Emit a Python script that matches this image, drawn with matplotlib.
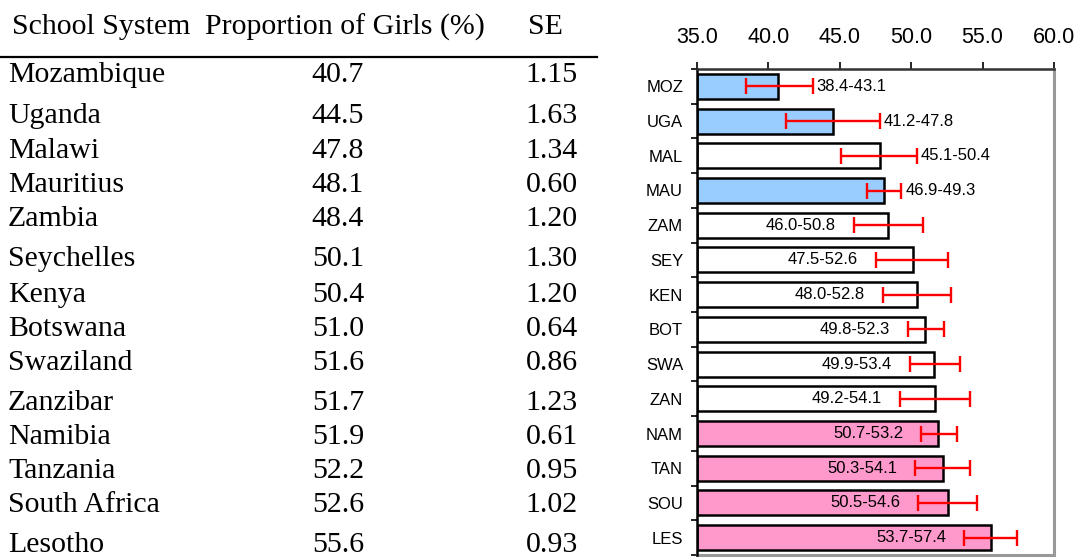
import matplotlib
matplotlib.use("Agg")
import matplotlib.pyplot as plt
from matplotlib.ticker import FixedLocator, FormatStrFormatter

# ---------------- data ----------------
systems = ["Mozambique", "Uganda", "Malawi", "Mauritius", "Zambia", "Seychelles",
           "Kenya", "Botswana", "Swaziland", "Zanzibar", "Namibia", "Tanzania",
           "South Africa", "Lesotho"]
codes = ["MOZ", "UGA", "MAL", "MAU", "ZAM", "SEY", "KEN", "BOT", "SWA", "ZAN",
         "NAM", "TAN", "SOU", "LES"]
girls_pct = [40.7, 44.5, 47.8, 48.1, 48.4, 50.1, 50.4, 51.0, 51.6, 51.7, 51.9, 52.2, 52.6, 55.6]
girls_pct_txt = ["40.7", "44.5", "47.8", "48.1", "48.4", "50.1", "50.4", "51.0", "51.6",
                 "51.7", "51.9", "52.2", "52.6", "55.6"]
se_txt = ["1.15", "1.63", "1.34", "0.60", "1.20", "1.30", "1.20", "0.64", "0.86",
          "1.23", "0.61", "0.95", "1.02", "0.93"]
ci_low = [38.4, 41.2, 45.1, 46.9, 46.0, 47.5, 48.0, 49.8, 49.9, 49.2, 50.7, 50.3, 50.5, 53.7]
ci_high = [43.1, 47.8, 50.4, 49.3, 50.8, 52.6, 52.8, 52.3, 53.4, 54.1, 53.2, 54.1, 54.6, 57.4]
# significance group: -1 below parity, 0 not significant, +1 above
group = [-1, -1, 0, -1, 0, 0, 0, 0, 0, 0, 1, 1, 1, 1]
x_ticks = [35.0, 40.0, 45.0, 50.0, 55.0, 60.0]
headers = ["School System", "Proportion of Girls (%)", "SE"]

# ---------------- layout / style ----------------
W, H = 1081, 559
row_y = [73, 114, 148, 183, 217, 257, 292, 327, 360, 400, 435, 469, 503, 543]  # px, cap centres
header_y = 25
label_outside = [True, True, True, True] + [False] * 10
colors = {-1: "#99CCFF", 0: "#FFFFFF", 1: "#FF99CC"}

plt.rcParams["font.family"] = ["Liberation Sans", "DejaVu Sans"]
fig = plt.figure(figsize=(W / 100, H / 100), dpi=100)
serif = "Liberation Serif"
fs_tab = 21.5


def fy(py):
    return 1 - py / H


def fx(px):
    return px / W


# header
fig.text(fx(12), fy(header_y + 9.5), headers[0], family=serif, fontsize=fs_tab, va="baseline", ha="left")
fig.text(fx(205), fy(header_y + 9.5), headers[1], family=serif, fontsize=fs_tab, va="baseline", ha="left")
fig.text(fx(545), fy(header_y + 9.5), headers[2], family=serif, fontsize=fs_tab, va="baseline", ha="center")
fig.add_artist(plt.Line2D([fx(0), fx(597)], [fy(57), fy(57)], color="black", lw=1.6,
                          transform=fig.transFigure))

for i, name in enumerate(systems):
    yb = fy(row_y[i] + 9.5)
    fig.text(fx(8), yb, name, family=serif, fontsize=fs_tab, va="baseline", ha="left")
    fig.text(fx(338), yb, girls_pct_txt[i], family=serif, fontsize=fs_tab, va="baseline", ha="center")
    fig.text(fx(578), yb, se_txt[i], family=serif, fontsize=fs_tab, va="baseline", ha="right")

# chart
ax = fig.add_axes([fx(697), fy(555), fx(1054) - fx(697), fy(69) - fy(555)])
n = len(codes)
ypos = list(range(n))
ax.barh(ypos, [v - 35 for v in girls_pct], left=35, height=0.72,
        color=[colors[g] for g in group], edgecolor="black", linewidth=1.8, zorder=2)
xerr_lo = [v - l for v, l in zip(girls_pct, ci_low)]
xerr_hi = [h - v for v, h in zip(girls_pct, ci_high)]
ax.errorbar(girls_pct, ypos, xerr=[xerr_lo, xerr_hi], fmt="none", ecolor="#FF0000",
            elinewidth=1.7, capsize=5.5, capthick=1.7, zorder=3)

ax.set_xlim(35, 60)
ax.set_ylim(n - 0.5, -0.5)
ax.xaxis.tick_top()
ax.set_xticks(x_ticks)
ax.xaxis.set_major_formatter(FormatStrFormatter("%.1f"))
ax.tick_params(axis="x", which="major", direction="out", length=5, width=1.2, pad=10,
               labelsize=15.5, color="black")
ax.set_yticks(ypos)
ax.set_yticklabels(codes, fontsize=12)
ax.yaxis.set_minor_locator(FixedLocator([i - 0.5 for i in range(n + 1)]))
ax.tick_params(axis="y", which="major", length=0, pad=10)
ax.tick_params(axis="y", which="minor", length=4, width=1.2, direction="out")

for s in ("right", "bottom"):
    ax.spines[s].set_color("#999999")
    ax.spines[s].set_linewidth(2.2)
ax.spines["top"].set_color("#333333")
ax.spines["top"].set_linewidth(1.8)
ax.spines["left"].set_color("black")
ax.spines["left"].set_linewidth(1.8)
ax.spines["top"].set_zorder(4)
ax.spines["left"].set_zorder(4)

# labels
px_per_unit = (1054 - 697) / 25.0
for i in range(n):
    txt = f"{ci_low[i]:.1f}-{ci_high[i]:.1f}"
    if label_outside[i]:
        ax.text(ci_high[i] + 4 / px_per_unit, i, txt, ha="left", va="center", fontsize=12, zorder=5)
    else:
        ax.text(ci_low[i] - 18 / px_per_unit, i, txt, ha="right", va="center", fontsize=12, zorder=5)

fig.savefig("out.png", dpi=100)
